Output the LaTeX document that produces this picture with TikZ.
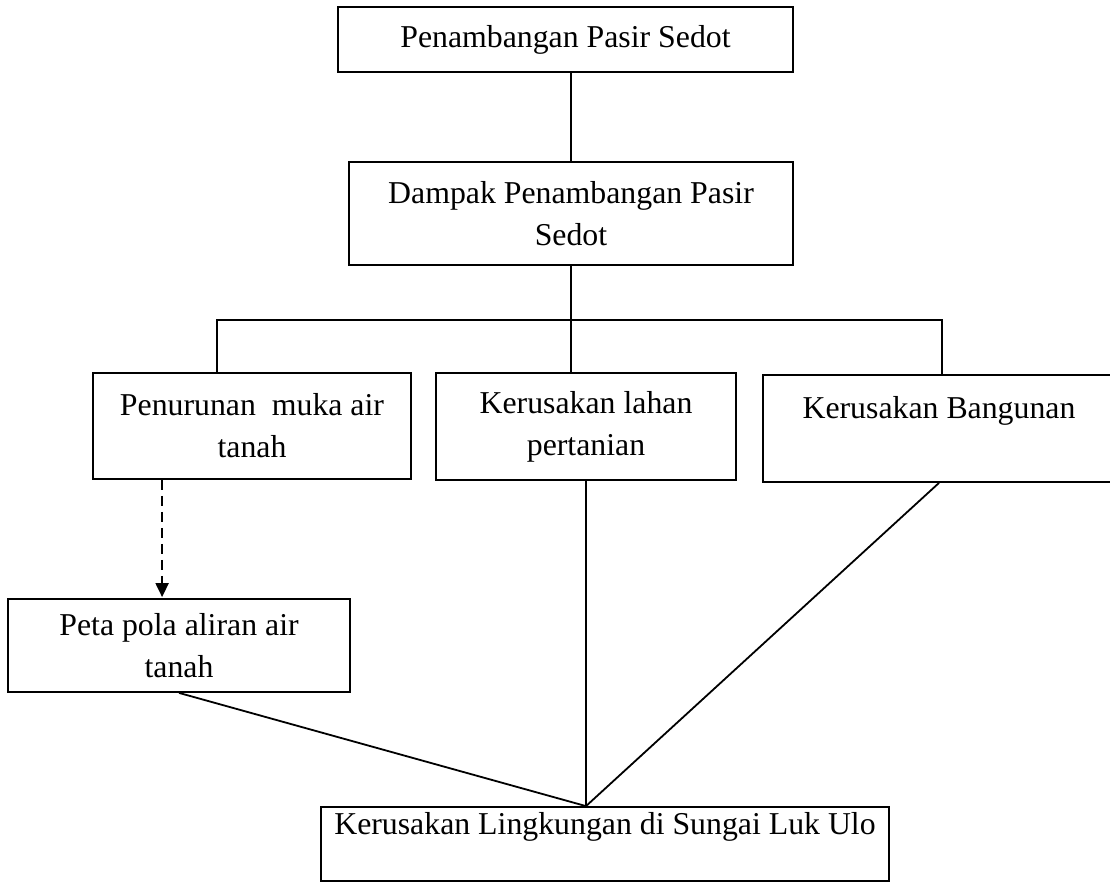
\documentclass[tikz,border=0pt]{standalone}
\usepackage{fontspec}
\setmainfont{Liberation Serif}
\usetikzlibrary{positioning,arrows.meta,calc}

\begin{document}
\begin{tikzpicture}[
  x=1pt, y=-1pt,
  font=\fontsize{31.8}{42}\selectfont,
  line width=1.8pt,
  box/.style={draw,rectangle,inner sep=0pt,align=center},
  dashlink/.style={line width=2pt,dash pattern=on 10pt off 6pt,
                   -{Triangle[length=14pt,width=13pt]},shorten >=1pt},
]
\clip (0,0) rectangle (1110,882);

%================================================================== BOXES ===
\node[box,minimum width=455pt,minimum height=65pt]  (tambang) at (565.5,39.5) {Penambangan Pasir Sedot};
\node[box,minimum width=444pt,minimum height=103pt] (dampak)  at (571,213.5)  {Dampak Penambangan Pasir\\Sedot};

\node[box,minimum width=318pt,minimum height=106pt] (turun)  at (252,426)   {Penurunan\ \ muka air\\tanah};
\node[box,minimum width=300pt,minimum height=107pt] (lahan)  at (586,426.5) {Kerusakan lahan\\pertanian};
\node[box,minimum width=352pt,minimum height=107pt] (bangun) at (939,428.5) {Kerusakan Bangunan\\\mbox{}};

\node[box,minimum width=342pt,minimum height=93pt] (peta)  at (179,645.5) {Peta pola aliran air\\tanah};
\node[box,minimum width=568pt,minimum height=74pt] (rusak) at (605,844)    {Kerusakan Lingkungan di Sungai Luk Ulo\\\mbox{}};

%============================================================= CONNECTORS ===
\coordinate (barL) at (217,320);
\coordinate (barR) at (942,320);
\coordinate (meet) at (lahan.south |- rusak.north);

\draw (dampak.north |- tambang.south) -- (dampak.north);
\draw (dampak.south) -- (dampak.south |- lahan.north);
\draw (barL |- turun.north) -- (barL) -- (barR) -- (barR |- bangun.north);

% dashed link to the groundwater map
\draw[dashlink] ($(turun.south west)+(70,0)$) -- ($(peta.north west)+(155,0)$);

% everything meets at the river box
\draw (peta.south)   -- (meet);
\draw (lahan.south)  -- (meet);
\draw (bangun.south) -- (meet);

\end{tikzpicture}
\end{document}
